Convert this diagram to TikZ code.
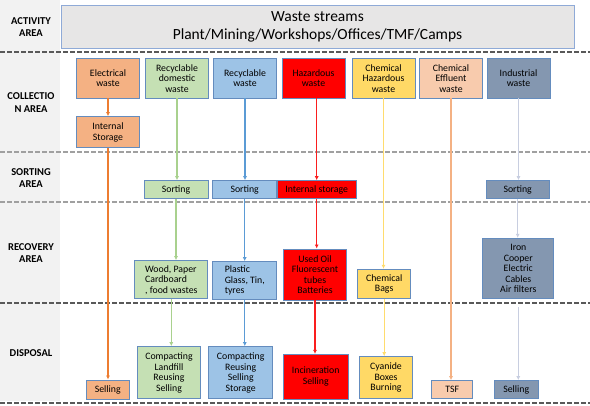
\documentclass[tikz,border=0pt]{standalone}
\usepackage{fontspec}
\setmainfont{Carlito}
\usetikzlibrary{arrows.meta}

\begin{document}
\begin{tikzpicture}[x=1pt,y=-1pt]

    % Farben
    \definecolor{leftgray}{RGB}{242,242,242}
    \definecolor{headfill}{RGB}{231,230,230}
    \definecolor{headline}{RGB}{143,170,215}
    \definecolor{boxline}{RGB}{100,140,190}
    \definecolor{dashdark}{RGB}{89,89,89}
    \definecolor{dashlight}{RGB}{160,160,160}
    \definecolor{ofill}{RGB}{244,177,131}
    \definecolor{oline}{RGB}{237,125,49}
    \definecolor{gfill}{RGB}{197,224,180}
    \definecolor{gline}{RGB}{169,209,142}
    \definecolor{bfill}{RGB}{157,195,230}
    \definecolor{bline}{RGB}{91,155,213}
    \definecolor{rfill}{RGB}{255,0,0}
    \definecolor{rline}{RGB}{250,30,30}
    \definecolor{yfill}{RGB}{255,217,102}
    \definecolor{yline}{RGB}{255,220,110}
    \definecolor{pfill}{RGB}{248,203,173}
    \definecolor{pline}{RGB}{244,177,131}
    \definecolor{sfill}{RGB}{132,151,176}
    \definecolor{sline}{RGB}{200,206,224}

    % Stile
    \tikzset{
        box/.style={draw=boxline, line width=0.9pt, align=center, inner sep=1pt,
            font=\fontsize{9.8}{10.5}\selectfont},
        obox/.style={box, fill=ofill},
        gbox/.style={box, fill=gfill},
        bbox/.style={box, fill=bfill},
        rbox/.style={box, fill=rfill},
        ybox/.style={box, fill=yfill},
        pbox/.style={box, fill=pfill},
        sbox/.style={box, fill=sfill},
        area/.style={font=\bfseries\fontsize{10.5}{12.5}\selectfont, align=center},
        sep/.style={line width=1.3pt, dash pattern=on 4.5pt off 2.5pt},
        flow/.style={-{Latex[length=4pt,width=4pt]}, line width=1.2pt}
    }

    \useasboundingbox (0,0) rectangle (590,406);

    % Linke Spalte
    \fill[leftgray] (0,0) rectangle (60,401);

    % Trennlinien
    \foreach \yy/\cc in {52/dashdark,152/dashlight,202/dashlight,303/dashdark,403/dashdark}
        \draw[\cc, sep] (0,\yy) -- (590,\yy);

    % Bereiche
    \node[area] (lact) at (31,27) {ACTIVITY\\AREA};
    \node[area] (lcol) at (31,102.5) {COLLECTIO\\N AREA};
    \node[area] (lsort) at (31,178) {SORTING\\AREA};
    \node[area] (lrec) at (31,253) {RECOVERY\\AREA};
    \node[area] (ldis) at (31,353.5) {DISPOSAL};

    % Kopfzeile
    \node[draw=headline, fill=headfill, line width=0.9pt, align=center,
        minimum width=513, minimum height=43,
        font=\fontsize{15.5}{18}\selectfont] (hdr) at (317.5,26.5)
        {Waste streams\\Plant/Mining/Workshops/Offices/TMF/Camps};

    % Sammlung
    \node[obox, minimum width=63, minimum height=39.5] (elec) at (108,78.3) {Electrical\\waste};
    \node[gbox, minimum width=63, minimum height=39.5] (dom) at (177,78.3) {Recyclable\\domestic\\waste};
    \node[bbox, minimum width=63, minimum height=39.5] (recy) at (245,78.3) {Recyclable\\waste};
    \node[rbox, minimum width=63, minimum height=39.5] (haz) at (313.5,78.3) {Hazardous\\waste};
    \node[ybox, minimum width=63, minimum height=39.5] (chz) at (383.5,78.3) {Chemical\\Hazardous\\waste};
    \node[pbox, minimum width=63, minimum height=39.5] (eff) at (451,78.3) {Chemical\\Effluent\\waste};
    \node[sbox, minimum width=63, minimum height=39.5] (ind) at (518.5,78.3) {Industrial\\waste};
    \node[obox, minimum width=63, minimum height=31.3] (store) at (108,132.3) {Internal\\Storage};

    % Sortierung
    \node[gbox, minimum width=64, minimum height=17.6] (sortG) at (176,189.5) {Sorting};
    \node[bbox, minimum width=64, minimum height=17.6] (sortB) at (244.7,189.5) {Sorting};
    \node[rbox, minimum width=79, minimum height=17.6] (intS) at (316.7,189.5) {Internal storage};
    \node[sbox, minimum width=63, minimum height=17.6] (sortI) at (517.7,189.5) {Sorting};

    % Verwertung
    \node[gbox, align=left, minimum width=73, minimum height=38.3] (wood) at (171.3,279.8) {Wood, Paper\\Cardboard\\, food wastes};
    \node[bbox, align=left, minimum width=64, minimum height=38.3] (plastic) at (244.8,280.8) {Plastic\\Glass, Tin,\\tyres};
    \node[rbox, minimum width=63, minimum height=51] (oil) at (315,274.5) {Used Oil\\Fluorescent\\tubes\\Batteries};
    \node[ybox, minimum width=53, minimum height=29.4] (bags) at (384.2,284) {Chemical\\Bags};
    \node[sbox, minimum width=71, minimum height=60.4] (iron) at (518.3,268.5) {Iron\\Cooper\\Electric\\Cables\\Air filters};

    % Entsorgung
    \node[obox, minimum width=43, minimum height=19] (sellO) at (107.7,389.5) {Selling};
    \node[gbox, minimum width=63, minimum height=52.3] (landfill) at (169,372.8) {Compacting\\Landfill\\Reusing\\Selling};
    \node[bbox, minimum width=64, minimum height=52.3] (reuse) at (240.7,372.8) {Compacting\\Reusing\\Selling\\Storage};
    \node[rbox, minimum width=65, minimum height=44.7] (incin) at (315.7,376.7) {Incineration\\Selling};
    \node[ybox, minimum width=53, minimum height=42.3] (cyan) at (386,377.8) {Cyanide\\Boxes\\Burning};
    \node[pbox, minimum width=41, minimum height=18] (tsf) at (452.2,389.7) {TSF};
    \node[sbox, minimum width=44, minimum height=18.3] (sellS) at (516.2,389.8) {Selling};

    % Pfeile
    \draw[flow, oline, line width=1.8pt] (elec.south) -- (elec.south |- store.north);
    \draw[flow, oline, line width=1.8pt] (store.south) -- (store.south |- sellO.north);

    \draw[flow, gline] (dom.south) -- (dom.south |- sortG.north);
    \draw[flow, gline] (sortG.south) -- (sortG.south |- wood.north);
    \draw[flow, gline] (wood.south) -- (wood.south |- landfill.north);

    \draw[flow, bline] (recy.south) -- (recy.south |- sortB.north);
    \draw[flow, bline] (sortB.south) -- (sortB.south |- plastic.north);
    \draw[flow, bline] (plastic.south) -- (plastic.south |- reuse.north);

    \draw[flow, rline] (intS.north |- haz.south) -- (intS.north);
    \draw[flow, rline] (intS.south) -- (intS.south |- oil.north);
    \draw[flow, rline] (oil.south) -- (oil.south |- incin.north);

    \draw[flow, yline] (chz.south) -- (chz.south |- bags.north);
    \draw[flow, yline] (bags.south) -- (bags.south |- cyan.north);

    \draw[flow, pline] (eff.south) -- (eff.south |- tsf.north);

    \draw[flow, sline] (ind.south) -- (ind.south |- sortI.north);
    \draw[flow, sline] (sortI.south) -- (sortI.south |- iron.north);
    \draw[flow, sline, shorten <=8pt] (iron.south) -- (iron.south |- sellS.north);

\end{tikzpicture}
\end{document}
